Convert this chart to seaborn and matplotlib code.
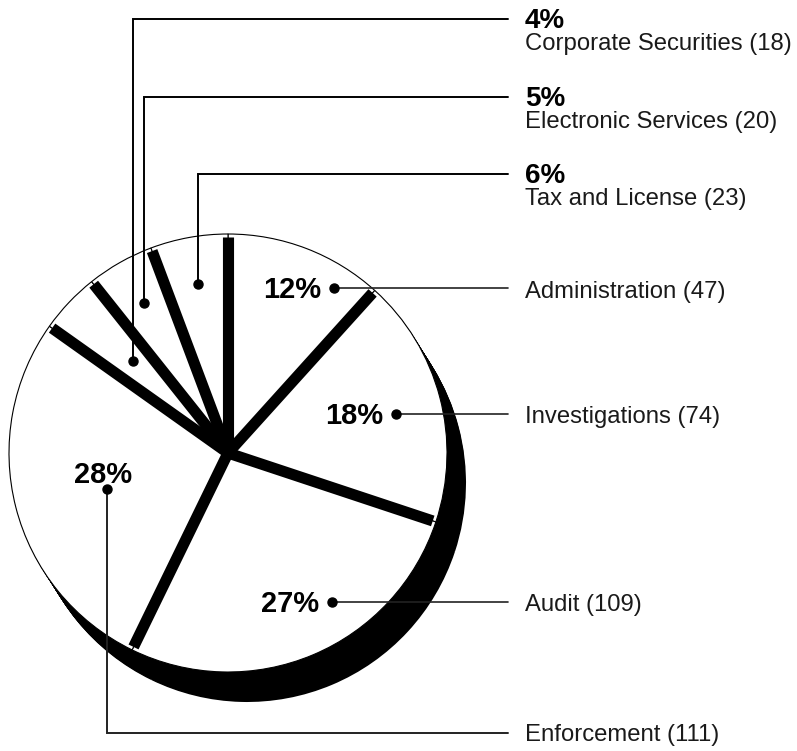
import matplotlib
matplotlib.use("Agg")
import matplotlib.pyplot as plt
import numpy as np
import seaborn as sns

# Staff by division
departments = ["Administration", "Investigations", "Audit", "Enforcement",
               "Corporate Securities", "Electronic Services", "Tax and License"]
staff = [47, 74, 109, 111, 18, 20, 23]
shares = ["12%", "18%", "27%", "28%", "4%", "5%", "6%"]

sns.set_theme(style="white")
plt.rcParams["font.family"] = ["Liberation Sans", "DejaVu Sans"]

W, H = 797, 751
fig = plt.figure(figsize=(W / 100, H / 100), dpi=100)
ax = fig.add_axes([0, 0, 1, 1])

CX, CY, R = 228, 453, 219
DEPTH = (19, 30)
pie_kw = dict(radius=R, startangle=-90, counterclock=True, frame=True)

# extruded body of the pie (drawn from the bottom layer up)
steps = 30
for k in range(steps, 0, -1):
    t = k / steps
    ax.pie(staff, center=(CX + DEPTH[0] * t, CY + DEPTH[1] * t),
           colors=["black"] * len(staff), explode=[0.006] * len(staff),
           wedgeprops=dict(linewidth=0, zorder=1), **pie_kw)

# top face
wedges, _ = ax.pie(staff, center=(CX, CY), colors=["white"] * len(staff),
                   wedgeprops=dict(edgecolor="black", linewidth=0.8, zorder=2),
                   **pie_kw)

# thick separators between the slices
for w in wedges:
    a = np.deg2rad(w.theta1)
    cx, cy = w.center
    ax.plot([cx, cx + 0.985 * w.r * np.cos(a)], [cy, cy + 0.985 * w.r * np.sin(a)],
            color="black", lw=8, solid_capstyle="butt", zorder=3)

# label layout
anchor = {
    "Administration": (334, 288),
    "Investigations": (396, 414),
    "Audit": (332, 602),
    "Enforcement": (107, 489),
    "Corporate Securities": (133, 361),
    "Electronic Services": (144, 303),
    "Tax and License": (198, 284),
}
side_line_y = {"Administration": 288, "Investigations": 414, "Audit": 602,
               "Enforcement": 733}
side_base_y = {"Administration": 298, "Investigations": 423, "Audit": 611,
               "Enforcement": 741}
top_line_y = {"Corporate Securities": 19, "Electronic Services": 97,
              "Tax and License": 174}

LINE_END, TEXT_X = 508, 525
lc = "#222222"
for name, n, pct in zip(departments, staff, shares):
    x0, y0 = anchor[name]
    ax.plot([x0], [y0], "o", color="black", ms=6.5, zorder=5)
    label = f"{name} ({n})"
    if name in top_line_y:
        ly = top_line_y[name]
        ax.plot([x0, x0, LINE_END], [y0, ly, ly], color="black", lw=1.4,
                solid_joinstyle="miter", zorder=4)
        ax.text(TEXT_X, ly + 9, pct, fontsize=20, fontweight="bold",
                ha="left", va="baseline", color="black")
        ax.text(TEXT_X, ly + 31, label, fontsize=17.2, ha="left",
                va="baseline", color="#1a1a1a")
    elif name == "Enforcement":
        ly = side_line_y[name]
        ax.plot([x0, x0, LINE_END], [y0, ly, ly], color=lc, lw=1.4,
                solid_joinstyle="miter", zorder=4)
        ax.text(x0 - 4, y0 - 6, pct, fontsize=21, fontweight="bold",
                ha="center", va="baseline", color="black", zorder=6)
        ax.text(TEXT_X, side_base_y[name], label, fontsize=17.2, ha="left",
                va="baseline", color="#1a1a1a")
    else:
        ly = side_line_y[name]
        ax.plot([x0, LINE_END], [y0, ly], color=lc, lw=1.2, zorder=4)
        ax.text(x0 - 13, y0 + 10, pct, fontsize=21, fontweight="bold",
                ha="right", va="baseline", color="black", zorder=6)
        ax.text(TEXT_X, side_base_y[name], label, fontsize=17.2, ha="left",
                va="baseline", color="#1a1a1a")

ax.set_xlim(0, W)
ax.set_ylim(H, 0)
ax.set_aspect("equal")
ax.axis("off")
fig.savefig("out.png", dpi=100, facecolor="white")
